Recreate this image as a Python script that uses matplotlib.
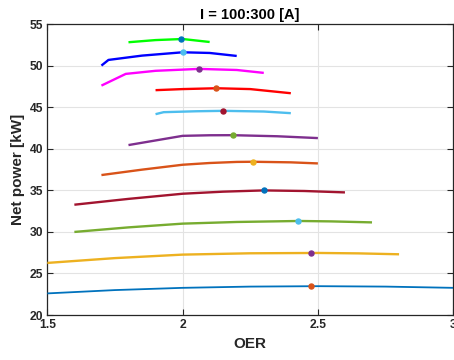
import matplotlib
matplotlib.use("Agg")
import matplotlib.pyplot as plt

plt.rcParams['font.family'] = ['Liberation Sans', 'DejaVu Sans']

# Curves (bottom to top), OER vs net power [kW]
x1 = [1.5, 1.75, 2.0, 2.25, 2.5, 2.75, 3.0, 3.1]
y1 = [22.6, 23.0, 23.27, 23.42, 23.47, 23.42, 23.27, 23.2]
x2 = [1.5, 1.75, 2.0, 2.25, 2.5, 2.65, 2.8]
y2 = [26.27, 26.85, 27.27, 27.43, 27.47, 27.42, 27.31]
x3 = [1.6, 1.8, 2.0, 2.2, 2.43, 2.55, 2.7]
y3 = [30.0, 30.55, 31.0, 31.2, 31.32, 31.27, 31.15]
x4 = [1.6, 1.8, 2.0, 2.15, 2.3, 2.45, 2.6]
y4 = [33.28, 33.98, 34.6, 34.85, 35.0, 34.93, 34.76]
x5 = [1.7, 1.85, 2.0, 2.1, 2.2, 2.26, 2.4, 2.5]
y5 = [36.85, 37.5, 38.09, 38.3, 38.43, 38.45, 38.38, 38.25]
x6 = [1.8, 2.0, 2.1, 2.185, 2.35, 2.5]
y6 = [40.46, 41.57, 41.64, 41.65, 41.52, 41.3]
x7 = [1.9, 1.93, 2.05, 2.15, 2.3, 2.4]
y7 = [44.18, 44.42, 44.53, 44.58, 44.5, 44.3]
x8 = [1.9, 2.0, 2.125, 2.25, 2.4]
y8 = [47.07, 47.2, 47.3, 47.2, 46.7]
x9 = [1.7, 1.79, 1.9, 2.06, 2.2, 2.3]
y9 = [47.62, 49.03, 49.4, 49.63, 49.5, 49.15]
x10 = [1.7, 1.726, 1.85, 2.0, 2.1, 2.2]
y10 = [50.03, 50.71, 51.23, 51.63, 51.55, 51.19]
x11 = [1.8, 1.9, 2.0, 2.1]
y11 = [52.84, 53.1, 53.23, 52.87]

# Maximum points
max_x = [2.475, 2.475, 2.426, 2.30, 2.26, 2.185, 2.15, 2.125, 2.06, 2.0, 1.994]
max_y = [23.45, 27.47, 31.32, 35.0, 38.45, 41.65, 44.58, 47.3, 49.63, 51.63, 53.23]

line_colors = ['#0072BD', '#EDB120', '#77AC30', '#A2142F', '#D95319', '#7E2F8E',
               '#4DBEEE', '#FF0000', '#FF00FF', '#0000FF', '#00FF00']
dot_colors = ['#D95319', '#7E2F8E', '#4DBEEE', '#0072BD', '#EDB120', '#77AC30',
              '#A2142F', '#D95319', '#7E2F8E', '#4DBEEE', '#0072BD']

xs = [x1, x2, x3, x4, x5, x6, x7, x8, x9, x10, x11]
ys = [y1, y2, y3, y4, y5, y6, y7, y8, y9, y10, y11]

fig = plt.figure(figsize=(4.54, 3.6), dpi=100)
ax = fig.add_axes([0.1042, 0.125, 0.894, 0.8075])

for i, (xx, yy) in enumerate(zip(xs, ys)):
    lw = 1.3 if i == 0 else 1.7
    ax.plot(xx, yy, color=line_colors[i], lw=lw, solid_capstyle='butt', zorder=3)
for i in range(len(max_x)):
    ax.plot(max_x[i], max_y[i], 'o', color=dot_colors[i], ms=3.6, zorder=4)

ax.set_xlim(1.5, 3.0)
ax.set_ylim(20, 55)
ax.set_xticks([1.5, 2, 2.5, 3])
ax.set_xticklabels(['1.5', '2', '2.5', '3'])
ax.set_yticks([20, 25, 30, 35, 40, 45, 50, 55])
ax.grid(True, color='#e3e3e3', lw=0.8, zorder=0)
ax.set_axisbelow(True)
ax.tick_params(direction='in', top=True, right=True, length=4, width=0.8,
               labelsize=8.7, pad=3, colors='#262626')
for lab in ax.get_xticklabels() + ax.get_yticklabels():
    lab.set_fontweight('bold')
    lab.set_color('#262626')
for s in ax.spines.values():
    s.set_linewidth(0.9)
    s.set_color('#262626')

ax.set_xlabel('OER', fontsize=11, fontweight='bold', color='#262626', labelpad=4)
ax.set_ylabel('Net power [kW]', fontsize=11, fontweight='bold', color='#262626', labelpad=3)
ax.set_title('I = 100:300 [A]', fontsize=10.5, fontweight='bold', color='black', pad=4)

fig.savefig('out.png', dpi=100)
